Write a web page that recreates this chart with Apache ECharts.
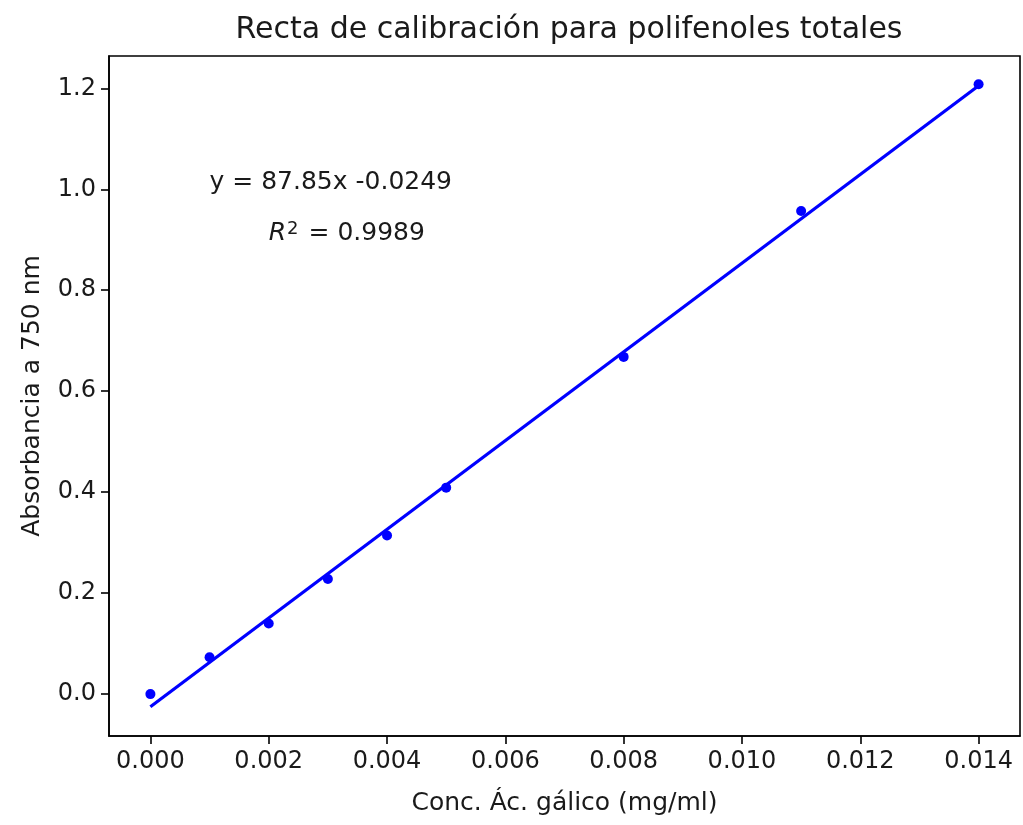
<!DOCTYPE html>
<html>
<head>
<meta charset="utf-8">
<script src="https://cdn.jsdelivr.net/npm/echarts@6/dist/echarts.min.js"></script>
<style>
  html, body { margin: 0; padding: 0; background: #fff; }
  #main { width: 1023px; height: 825px; }
</style>
</head>
<body>
<div id="main"></div>
<script>
// datos medidos (concentración en mg/ml, absorbancia a 750 nm)
var concX = [0, 0.001, 0.002, 0.003, 0.004, 0.005, 0.008, 0.011, 0.014];
var absY = [0.000, 0.073, 0.140, 0.228, 0.314, 0.409, 0.668, 0.957, 1.208];

// recta de ajuste, extremos
var fitX = [0, 0.014];
var fitY = [-0.0249, 1.2050];

var xTicks = [0, 0.002, 0.004, 0.006, 0.008, 0.010, 0.012, 0.014];
var yTicks = [0, 0.2, 0.4, 0.6, 0.8, 1.0, 1.2];

// anotaciones: [x, y] en coordenadas de datos
var eqPos = [0.001, 1.0];
var r2Pos = [0.002, 0.9];

var FONT = 'DejaVu Sans';
var chart = echarts.init(document.getElementById('main'));

var pairs = function (xs, ys) {
    var res = [];
    for (var i = 0; i < xs.length; i++) res.push([xs[i], ys[i]]);
    return res;
};

var option = {
    animation: false,
    backgroundColor: '#fff',
    title: {
        text: 'Recta de calibración para polifenoles totales',
        left: 564,
        top: 10,
        textAlign: 'center',
        textStyle: { fontFamily: FONT, fontSize: 30, fontWeight: 'normal', color: '#1a1a1a' }
    },
    grid: {
        left: 109, top: 56, right: 3, bottom: 89,
        show: true, borderColor: '#000', borderWidth: 1.6
    },
    xAxis: {
        type: 'value',
        min: -0.0007, max: 0.0147,
        name: 'Conc. Ác. gálico (mg/ml)',
        nameLocation: 'middle',
        nameGap: 55,
        nameTextStyle: { fontFamily: FONT, fontSize: 25, color: '#1a1a1a' },
        axisLine: { show: true, onZero: false, lineStyle: { color: '#000', width: 1.6 } },
        axisTick: { show: true, inside: false, length: 8, customValues: xTicks, lineStyle: { color: '#000', width: 1.6 } },
        axisLabel: {
            customValues: xTicks, margin: 14,
            fontFamily: FONT, fontSize: 24, color: '#1a1a1a',
            formatter: function (v) { return v.toFixed(3); }
        },
        splitLine: { show: false }
    },
    yAxis: {
        type: 'value',
        min: -0.083, max: 1.264,
        name: 'Absorbancia a 750 nm',
        nameLocation: 'middle',
        nameGap: 64,
        nameTextStyle: { fontFamily: FONT, fontSize: 25, color: '#1a1a1a' },
        axisLine: { show: true, onZero: false, lineStyle: { color: '#000', width: 1.6 } },
        axisTick: { show: true, inside: false, length: 8, customValues: yTicks, lineStyle: { color: '#000', width: 1.6 } },
        axisLabel: {
            customValues: yTicks, margin: 13,
            fontFamily: FONT, fontSize: 24, color: '#1a1a1a',
            formatter: function (v) { return v.toFixed(1); }
        },
        splitLine: { show: false }
    },
    series: [
        {
            name: 'ajuste',
            type: 'line',
            data: pairs(fitX, fitY),
            showSymbol: false,
            lineStyle: { color: '#0000ff', width: 3.2 },
            z: 2
        },
        {
            name: 'datos',
            type: 'scatter',
            data: pairs(concX, absY),
            symbol: 'circle',
            symbolSize: 10,
            itemStyle: { color: '#0000ff', opacity: 1 },
            z: 3
        }
    ]
};
chart.setOption(option);

// ecuación y R2 colocados en coordenadas de datos
var p1 = chart.convertToPixel({ gridIndex: 0 }, eqPos);
var p2 = chart.convertToPixel({ gridIndex: 0 }, r2Pos);
chart.setOption({
    graphic: [
        {
            type: 'text', x: p1[0], y: p1[1] + 6,
            style: {
                text: 'y = 87.85x -0.0249',
                fontFamily: FONT, fontSize: 25, fill: '#1a1a1a',
                textAlign: 'left', textVerticalAlign: 'bottom'
            }
        },
        {
            type: 'text', x: p2[0], y: p2[1] + 6,
            style: {
                text: '{i|R}{s|2}{n| = 0.9989}',
                fontFamily: FONT, fontSize: 25, fill: '#1a1a1a',
                textAlign: 'left', textVerticalAlign: 'bottom',
                rich: {
                    i: { fontFamily: FONT, fontSize: 25, fontStyle: 'italic', fill: '#1a1a1a', verticalAlign: 'bottom' },
                    s: { fontFamily: FONT, fontSize: 18, fill: '#1a1a1a', verticalAlign: 'top', padding: [0, 2, 0, 1] },
                    n: { fontFamily: FONT, fontSize: 25, fill: '#1a1a1a', verticalAlign: 'bottom' }
                }
            }
        }
    ]
});
</script>
</body>
</html>
